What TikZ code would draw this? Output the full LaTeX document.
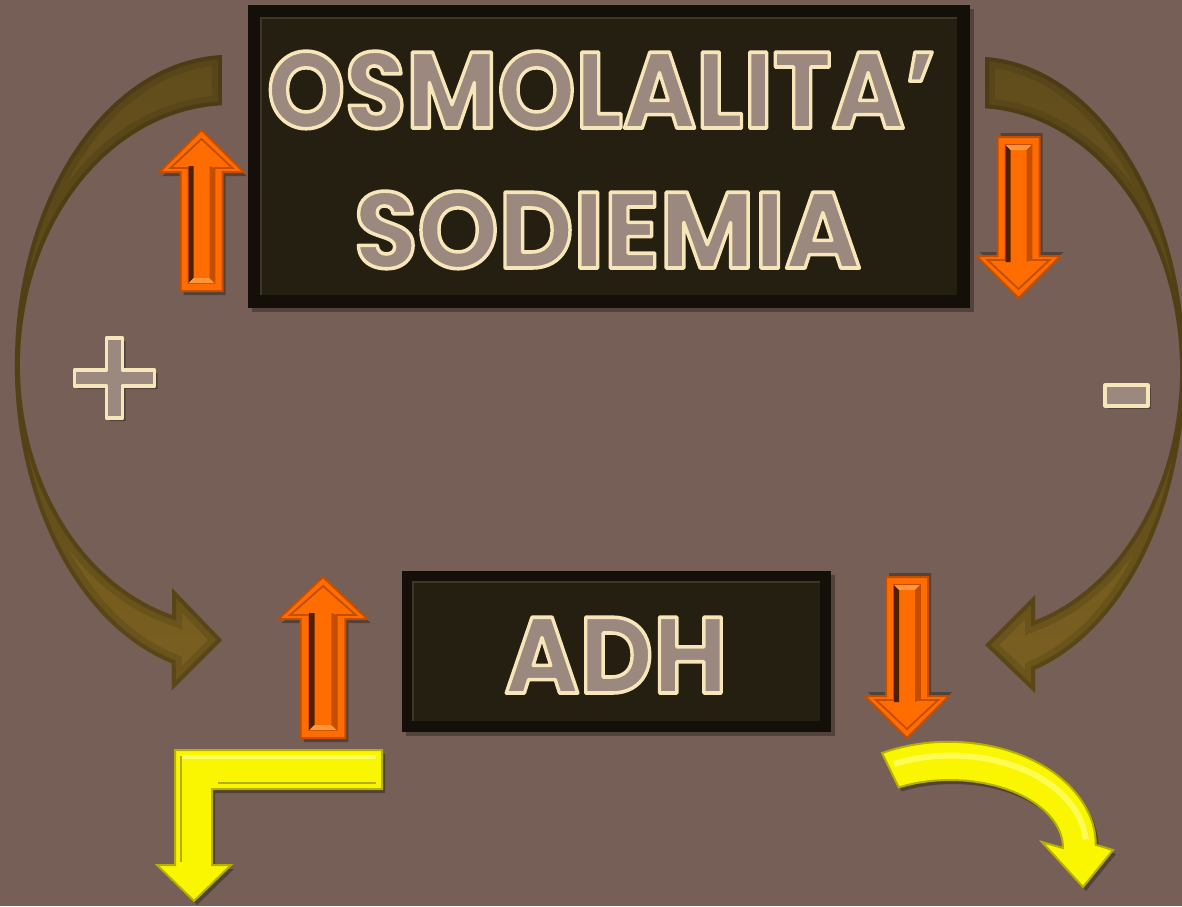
\documentclass[tikz,border=0pt]{standalone}
\usepackage{fontspec}
\setmainfont{Poppins}
\definecolor{bg}{RGB}{118,95,86}
\definecolor{browntop}{RGB}{96,76,28}
\definecolor{brownbot}{RGB}{122,96,32}
\definecolor{browndk}{RGB}{50,38,12}
\definecolor{boxout}{RGB}{20,16,9}
\definecolor{boxin}{RGB}{37,31,18}
\definecolor{boxhi}{RGB}{62,54,38}
\definecolor{orfill}{RGB}{255,108,0}
\definecolor{ordark}{RGB}{196,78,0}
\definecolor{orgroove}{RGB}{80,30,0}
\definecolor{orlight}{RGB}{255,150,60}
\definecolor{yfill}{RGB}{250,245,0}
\definecolor{ydark}{RGB}{180,175,0}
\definecolor{ylight}{RGB}{255,255,140}
\definecolor{txtfill}{RGB}{155,136,126}
\definecolor{txtline}{RGB}{247,230,185}
\newcommand\outl[1]{\special{pdf:literal direct 2 Tr 1 j 1.8 w 0.969 0.902 0.725 RG}#1\special{pdf:literal direct 0 Tr}}
\tikzset{
  txt/.style={anchor=base, text=txtfill, inner sep=0pt, font=\fontsize{54}{54}\selectfont\bfseries},
  shadowfill/.style={fill=black, opacity=0.3},
  signstyle/.style={fill=txtfill, draw=txtline, line width=1.6pt, line join=round},
  pics/orup/.style={code={
    \fill[shadowfill] (3,4) -- (45,46) -- (24,46) -- (24,165) -- (-18,165) -- (-18,46) -- (-39,46) -- cycle;
    \fill[orfill, draw=ordark, line width=1pt] (0,0) -- (42,42) -- (21,42) -- (21,161) -- (-21,161) -- (-21,42) -- (-42,42) -- cycle;
    \draw[ordark, line width=0.9pt, line join=miter] (0,9) -- (31,38) -- (13,38) -- (13,153) -- (-13,153) -- (-13,38) -- (-31,38) -- cycle;
    \fill[orgroove] (-13,36) -- (-8,36) -- (-8,148) -- (-13,153) -- cycle;
    \fill[orlight] (-13,153) -- (-8,148) -- (8,148) -- (13,153) -- cycle;
    \fill[ordark] (8,36) -- (13,38) -- (13,153) -- (8,148) -- cycle;
  }}
}
\def\leftbrown{(222,55) arc[start angle=267.9, end angle=105.7, x radius=215, y radius=310] -- (172,690) -- (222,640) -- (172,588) -- (172,615) arc[start angle=106, end angle=267.8, x radius=210, y radius=260] -- cycle}
\def\rightbrown{(985,57) arc[start angle=272.7, end angle=433.4, x radius=210, y radius=313] -- (1035,693) -- (985,645) -- (1035,595) -- (1035,620.5) arc[start angle=433, end angle=272.8, x radius=205, y radius=262] -- cycle}
\def\ycurve{(882,753) arc[start angle=243, end angle=360, x radius=147, y radius=103] -- (1113,850) -- (1083,887) -- (1042,842) -- (1063,848) arc[start angle=360, end angle=243, x radius=113, y radius=68] -- cycle}
\def\yell{(175,750) -- (382,750) -- (382,789) -- (212,789) -- (212,865) -- (231,865) -- (194,901) -- (157,865) -- (175,865) -- cycle}
\begin{document}
\begin{tikzpicture}[x=0.5pt,y=-0.5pt]
\fill[bg] (0,0) rectangle (1182,906);
\useasboundingbox (0,0) rectangle (1182,906);
% brown curved arrows
\begin{scope}
  \clip \leftbrown;
  \shade[top color=browntop, bottom color=brownbot] (0,40) rectangle (240,700);
  \draw[browndk, line width=10pt, opacity=0.18] \leftbrown;
  \draw[browndk, line width=4pt, opacity=0.3] \leftbrown;
\end{scope}
\begin{scope}
  \clip \rightbrown;
  \shade[top color=browntop, bottom color=brownbot] (960,40) rectangle (1182,700);
  \draw[browndk, line width=10pt, opacity=0.18] \rightbrown;
  \draw[browndk, line width=4pt, opacity=0.3] \rightbrown;
\end{scope}
% top box
\fill[shadowfill] (252,9) rectangle (974,312);
\fill[boxout] (248,5) rectangle (970,308);
\fill[boxin] (261,18) rectangle (957,295);
\draw[boxhi, line width=0.8pt] (261,295) -- (261,18) -- (957,18);
\node[txt] (osm) at (601.5,128) {\scalebox{0.92}[1]{\outl{OSMOLALITA’}}};
\node[txt] (sod) at (607.5,268) {\scalebox{0.955}[1]{\outl{SODIEMIA}}};
% ADH box
\fill[shadowfill] (406,575) rectangle (835,736);
\fill[boxout] (402,571) rectangle (831,732);
\fill[boxin] (413,582) rectangle (820,721);
\draw[boxhi, line width=0.8pt] (413,721) -- (413,582) -- (820,582);
\node[txt] (adh) at (616,693) {\scalebox{0.94}[1]{\outl{ADH}}};
% orange arrows
\pic at (201.5,130) {orup};
\pic[xscale=1.06] at (323,577) {orup};
\pic[yscale=-1] at (1018.5,298) {orup};
\pic[yscale=-1] at (907,738) {orup};
% yellow arrows
\fill[shadowfill] [shift={(3,4)}] \yell;
\fill[yfill, draw=ydark, line width=1pt, line join=miter] \yell;
\draw[ylight, line width=2pt, opacity=0.7] (181,757) -- (376,757);
\draw[ydark, line width=0.8pt] (181,756) -- (181,862) (218,783) -- (376,783);
\fill[shadowfill] [shift={(3,4)}] \ycurve;
\fill[yfill, draw=ydark, line width=1pt, line join=miter] \ycurve;
\draw[ylight, line width=3pt, opacity=0.6] (894,764) arc[start angle=245, end angle=356, x radius=135, y radius=90];
% plus and minus
\fill[shadowfill] (109.5,341) -- (125.5,341) -- (125.5,373) -- (157.5,373) -- (157.5,389) -- (125.5,389) -- (125.5,421) -- (109.5,421) -- (109.5,389) -- (77.5,389) -- (77.5,373) -- (109.5,373) -- cycle;
\path[signstyle] (106.5,338) -- (122.5,338) -- (122.5,370) -- (154.5,370) -- (154.5,386) -- (122.5,386) -- (122.5,418) -- (106.5,418) -- (106.5,386) -- (74.5,386) -- (74.5,370) -- (106.5,370) -- cycle;
\fill[shadowfill] (1108,388) rectangle (1151,409);
\path[signstyle] (1105,385) rectangle (1148,406);
\end{tikzpicture}
\end{document}
